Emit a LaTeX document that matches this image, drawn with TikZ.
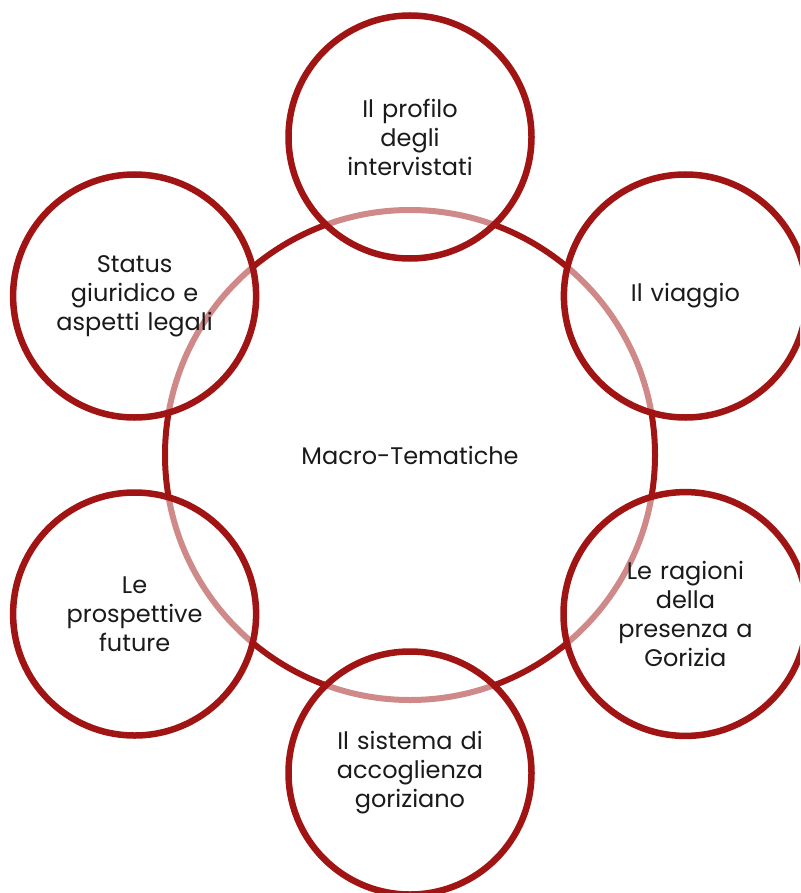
\documentclass[tikz,border=0pt]{standalone}
\usepackage{fontspec}
\setmainfont{Poppins}
\definecolor{ringred}{HTML}{A01414}
\definecolor{inkgray}{HTML}{1A1A1A}
\begin{document}
\begin{tikzpicture}[x=1pt,y=-1pt,
  hub/.style={circle, draw=ringred, line width=6pt, minimum size=490pt, inner sep=0pt,
    font=\fontsize{24}{29}\selectfont, text=inkgray},
  theme/.style={circle, draw=ringred, line width=6.5pt, minimum size=243pt, inner sep=0pt,
    fill=white, fill opacity=0.5, text opacity=1, draw opacity=1,
    align=center, text width=220pt, font=\fontsize{24}{29}\selectfont, text=inkgray}]
  \useasboundingbox (0,0) rectangle (800,893);
  \clip (0,0) rectangle (800,893);
  % central ring
  \node[hub] (main) at (410,455) {Macro-Tematiche};
  % six themes around the ring
  \node[theme] (profilo) at (410,137) {Il profilo\\degli\\intervistati};
  \node[theme] (viaggio) at (685.4,296) {Il viaggio};
  \node[theme] (ragioni) at (685.4,614) {Le ragioni\\della\\presenza a\\Gorizia};
  \node[theme] (sistema) at (410,773) {Il sistema di\\accoglienza\\goriziano};
  \node[theme] (futuro) at (134.6,614) {Le\\prospettive\\future};
  \node[theme] (status) at (134.6,296) {Status\\giuridico e\\aspetti legali};
\end{tikzpicture}
\end{document}
